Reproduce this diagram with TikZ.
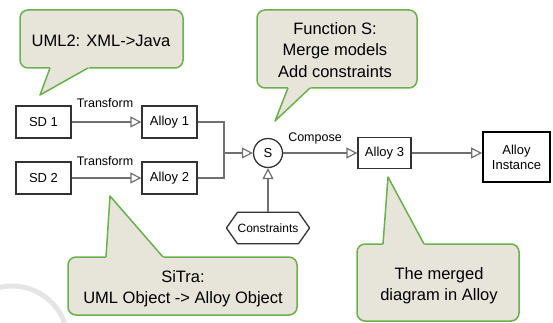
\documentclass[tikz,border=0pt]{standalone}
\usepackage{fontspec}
\setmainfont{Liberation Sans}
\usetikzlibrary{arrows.meta}
\definecolor{cfill}{HTML}{E7E4DA}
\definecolor{cgreen}{HTML}{6AB04C}
\definecolor{lgray}{HTML}{707070}
\definecolor{bgray}{HTML}{333333}
\begin{document}
\begin{tikzpicture}[x=1pt,y=-1pt,
 box/.style={draw=bgray,line width=1.3pt,minimum width=55pt,minimum height=32pt,inner sep=0pt,font=\fontsize{13}{15}\selectfont},
 conn/.style={draw=lgray,line width=1.2pt},
 arr/.style={conn,-{Triangle[open,length=11pt,width=11pt]}},
 lbl/.style={font=\fontsize{12.5}{14}\selectfont,inner sep=0pt},
 ctext/.style={font=\fontsize{16.5}{21.5}\selectfont,align=center,inner sep=0pt},
 cbox/.style={fill=cfill,draw=cgreen,line width=1.5pt,rounded corners=8pt},
 cptr/.style={draw=cgreen,line width=1.5pt,line join=round}
]
\useasboundingbox (0,0) rectangle (553,323);
% faint background arc
\draw[gray!20,line width=5pt] (12,342) ++(250:56) arc[start angle=250,end angle=340,radius=56];

% callout 1
\draw[cbox] (20,10) rectangle (183,68);
\fill[cfill] (51.1,65) -- (40,95) -- (93.3,65) -- cycle;
\draw[cptr] (50,68) -- (40,95) -- (88,68);
\node[ctext] (c1) at (101,41) {UML2: XML->Java};

% callout 2
\draw[cbox] (257,10) rectangle (417,88);
\fill[cfill] (289.2,85) -- (275,121) -- (313.2,85) -- cycle;
\draw[cptr] (288,88) -- (275,121) -- (310,88);
\node[ctext] (c2) at (335,50) {Function S:\\Merge models\\Add constraints};

% callout 3
\draw[cbox] (68,257) rectangle (297,315);
\fill[cfill] (105.8,260) -- (110,196) -- (165.6,260) -- cycle;
\draw[cptr] (106,257) -- (110,196) -- (163,257);
\node[ctext] (c3) at (183,288.5) {SiTra:\\UML Object -> Alloy Object};

% callout 4
\draw[cbox] (357,244) rectangle (519,321);
\fill[cfill] (382.8,247) -- (388,177) -- (425.6,247) -- cycle;
\draw[cptr] (383,244) -- (388,177) -- (424,244);
\node[ctext] (c4) at (439,285.5) {The merged\\diagram in Alloy};

% nodes
\node[box] (sd1) at (43.5,122) {SD 1};
\node[box] (a1) at (169.5,122) {Alloy 1};
\node[box] (sd2) at (43.5,178) {SD 2};
\node[box] (a2) at (169.5,178) {Alloy 2};
\node[draw=bgray,line width=1.3pt,circle,minimum size=29pt,inner sep=0pt,font=\fontsize{13}{15}\selectfont] (S) at (268,153) {S};
\node[box,minimum width=53pt,minimum height=31pt] (a3) at (384.5,153) {Alloy 3};
\node[box,draw=black,line width=1.8pt,minimum width=67pt,minimum height=50pt,align=center] (inst) at (516.5,157) {Alloy\\Instance};
\node[minimum width=57pt,minimum height=31pt,inner sep=0pt,font=\fontsize{12}{14}\selectfont] (con) at (268,228) {Constraints};
\draw[bgray,line width=1.3pt,line join=miter] (con.north west) -- (con.north east) -- ([xshift=11pt]con.east) -- (con.south east) -- (con.south west) -- ([xshift=-11pt]con.west) -- cycle;

% labels
\node[lbl] (t1) at (105,103.5) {Transform};
\node[lbl] (t2) at (105,161.5) {Transform};
\node[lbl] (cmp) at (315,138) {Compose};

% connectors
\coordinate (j) at (224,153);
\draw[arr] (sd1) -- (a1);
\draw[arr] (sd2) -- (a2);
\draw[conn] (a1.east) -| (j);
\draw[conn] (a2.east) -| (j);
\draw[arr] (j) -- (S);
\draw[arr] (con) -- (S);
\draw[arr] (S) -- (a3);
\draw[arr] (a3.east) -- (a3.east -| inst.west);
\end{tikzpicture}
\end{document}
